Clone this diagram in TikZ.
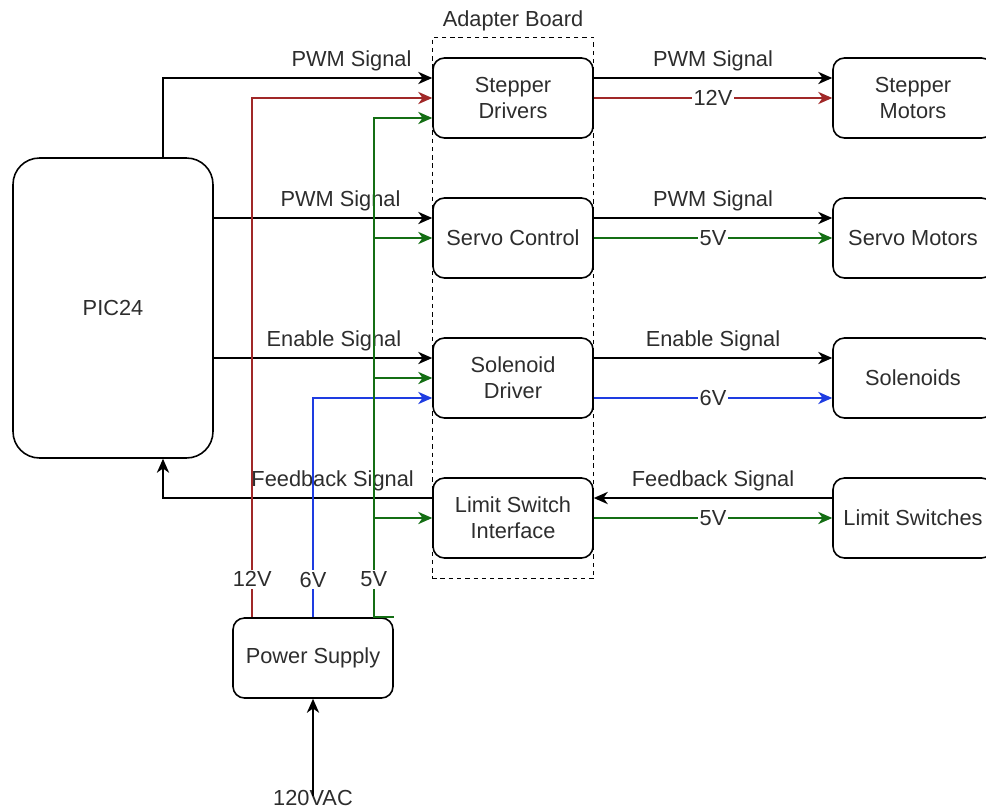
\documentclass[tikz,border=0pt]{standalone}
\usepackage{fontspec}
\setmainfont{Liberation Sans}
\usepackage{xcolor}
\usepackage{tikz}
\usetikzlibrary{arrows.meta, positioning, fit, backgrounds}

\definecolor{vred}{RGB}{160,40,40}
\definecolor{vgreen}{RGB}{20,110,20}
\definecolor{vblue}{RGB}{30,60,225}
\definecolor{txtgray}{RGB}{45,45,45}

\begin{document}
\begin{tikzpicture}[
  x=0.02cm, y=-0.02cm,
  font=\fontsize{12.4}{15}\selectfont,
  box/.style   = {draw, line width=0.9pt, rounded corners=6.5pt, minimum width=3.2cm,
                  minimum height=1.6cm, align=center, text=txtgray, inner sep=2pt},
  mcu/.style   = {box, minimum width=4cm, minimum height=6cm, rounded corners=15pt},
  arr/.style   = {-{Stealth[length=8pt, width=7pt, inset=2.5pt]}, line width=0.9pt},
  rarr/.style  = {arr, vred},
  garr/.style  = {arr, vgreen},
  barr/.style  = {arr, vblue},
  lbl/.style   = {text=txtgray, inner sep=2pt},
  vlbl/.style  = {text=txtgray, fill=white, inner sep=1pt},
]
\useasboundingbox (0,0) rectangle (986,811);

%% Nodes
\node[mcu] (pic)  at (113, 308) {PIC24};
\node[box] (sd)   at (513,  98) {Stepper\\Drivers};
\node[box] (sc)   at (513, 238) {Servo Control};
\node[box] (sdr)  at (513, 378) {Solenoid\\Driver};
\node[box] (lsi)  at (513, 518) {Limit Switch\\Interface};
\node[box] (sm)   at (913,  98) {Stepper\\Motors};
\node[box] (svm)  at (913, 238) {Servo Motors};
\node[box] (sol)  at (913, 378) {Solenoids};
\node[box] (ls)   at (913, 518) {Limit Switches};
\node[box] (ps)   at (313, 658) {Power Supply};
\node[lbl] (ac)   at (313, 798) {120VAC};

%% Dashed adapter board
\begin{scope}[on background layer]
  \node[draw, dash pattern=on 2.5pt off 2.2pt, line width=0.8pt, inner xsep=0pt,
        inner ysep=0.4cm, fit=(sd)(lsi)] (board) {};
\end{scope}
\node[lbl, above=1pt of board.north] {Adapter Board};

%% Taps
\coordinate (sd-pwm) at ([yshift=0.4cm]sd.west);
\coordinate (sd-5v)  at ([yshift=-0.4cm]sd.west);
\coordinate (sc-pwm) at ([yshift=0.4cm]sc.west);
\coordinate (sdr-en) at ([yshift=0.4cm]sdr.west);
\coordinate (sdr-6v) at ([yshift=-0.4cm]sdr.west);
\coordinate (lsi-fb) at ([yshift=0.4cm]lsi.west);
\coordinate (t12)    at ([xshift=0.4cm]ps.north west);
\coordinate (t5)     at ([xshift=-0.4cm]ps.north east);

%% PIC24 -> adapter board
\draw[arr] ([xshift=1cm]pic.north) |- node[lbl, above=1.5pt, pos=0.85]{PWM Signal} (sd-pwm);
\draw[arr] (pic.east |- sc-pwm) -- node[lbl, above=1.5pt, pos=0.58]{PWM Signal} (sc-pwm);
\draw[arr] (pic.east |- sdr-en) -- node[lbl, above=1.5pt, pos=0.55]{Enable Signal} (sdr-en);
\draw[arr] (lsi-fb) -| node[lbl, above=1.5pt, pos=0.185]{Feedback Signal} ([xshift=1cm]pic.south);

%% Power supply rails
\draw[rarr] (t12) |- node[vlbl, pos=0.0365]{12V} (sd.west);
\draw[barr] (ps.north) |- node[vlbl, pos=0.086]{6V} (sdr-6v);
\draw[garr] (ps.north east) -- (t5) |- node[vlbl, pos=0.038]{5V} (sd-5v);
\draw[garr] (t5 |- sc.west) -- (sc.west);
\draw[garr] (t5 |- sdr.west) -- (sdr.west);
\draw[garr] (t5 |- lsi.west) -- (lsi.west);

%% Adapter board -> devices
\draw[arr] ([yshift=0.4cm]sd.east) -- node[lbl, above=1.5pt]{PWM Signal} ([yshift=0.4cm]sm.west);
\draw[rarr] (sd.east) -- node[vlbl]{12V} (sm.west);
\draw[arr] ([yshift=0.4cm]sc.east) -- node[lbl, above=1.5pt]{PWM Signal} ([yshift=0.4cm]svm.west);
\draw[garr] (sc.east) -- node[vlbl]{5V} (svm.west);
\draw[arr] ([yshift=0.4cm]sdr.east) -- node[lbl, above=1.5pt]{Enable Signal} ([yshift=0.4cm]sol.west);
\draw[barr] ([yshift=-0.4cm]sdr.east) -- node[vlbl]{6V} ([yshift=-0.4cm]sol.west);
\draw[arr] ([yshift=0.4cm]ls.west) -- node[lbl, above=1.5pt]{Feedback Signal} ([yshift=0.4cm]lsi.east);
\draw[garr] (lsi.east) -- node[vlbl]{5V} (ls.west);

%% Mains input
\draw[arr] ([yshift=-0.2cm]ac.north) -- (ps.south);

\end{tikzpicture}
\end{document}
